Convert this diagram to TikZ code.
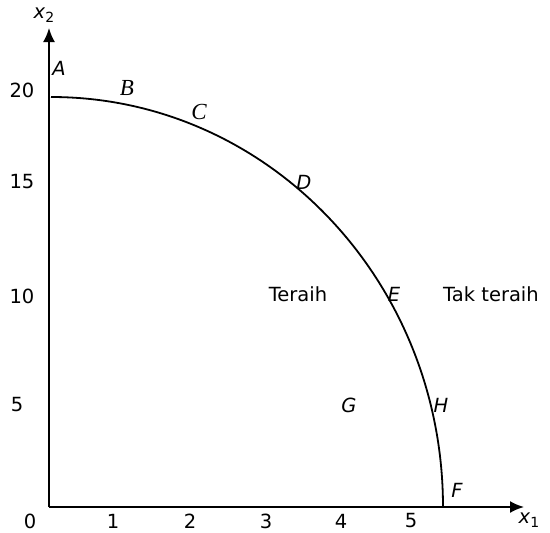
\documentclass[tikz,border=0pt]{standalone}
\usepackage{fontspec}
\setmainfont{DejaVu Sans}
\newfontfamily\serifit{Liberation Serif}
\usetikzlibrary{arrows.meta}

\newcommand{\xsub}[1]{\textit{x}\raisebox{-0.35ex}{\fontsize{14}{14}\selectfont #1}}

\begin{document}
\begin{tikzpicture}[x=1pt, y=-1pt, >={Latex[length=14pt,width=12pt]},
    font=\fontsize{19.5}{22}\selectfont,
    ax/.style={line width=2pt},
    tk/.style={inner sep=0pt},
    pt/.style={inner sep=0pt, font=\fontsize{19.5}{22}\selectfont\itshape},
    ptr/.style={inner sep=0pt, font=\serifit\fontsize{23}{25}\selectfont\itshape}]
  \useasboundingbox (0,0) rectangle (550,533);

  % axes
  \coordinate (o) at (49,507);
  \coordinate (xe) at (524,507);
  \coordinate (ye) at (49,28);
  \draw[ax,->] (o) -- (xe);
  \draw[ax,->] (o) -- (ye);
  \node[tk] (x1) at (529,520) {\xsub{1}};
  \node[tk] (x2) at (44,15) {\xsub{2}};

  % ticks
  \node[tk] (t0) at (30,521) {0};
  \node[tk] (t1) at (113,521) {1};
  \node[tk] (t2) at (190,521) {2};
  \node[tk] (t3) at (266,521) {3};
  \node[tk] (t4) at (341,521) {4};
  \node[tk] (t5) at (411,521) {5};
  \node[tk] (v5) at (17,405) {5};
  \node[tk] (v10) at (22,296) {10};
  \node[tk] (v15) at (22,182) {15};
  \node[tk] (v20) at (22,90) {20};

  % frontier
  \coordinate (a0) at (51,97);
  \draw[line width=1.8pt] (a0) arc[start angle=90, end angle=0, x radius=392pt, y radius=410pt] coordinate (f0);

  \node[pt] (A) at (59,68) {A};
  \node[ptr] (B) at (127,88) {B};
  \node[ptr] (C) at (199,112) {C};
  \node[pt] (D) at (304,182) {D};
  \node[pt] (E) at (394,294) {E};
  \node[pt] (G) at (349,405) {G};
  \node[pt] (H) at (441,405) {H};
  \node[pt] (F) at (457,490) {F};
  \node[tk] (in) at (298,294) {Teraih};
  \node[tk] (out) at (491,294) {Tak teraih};
\end{tikzpicture}
\end{document}
